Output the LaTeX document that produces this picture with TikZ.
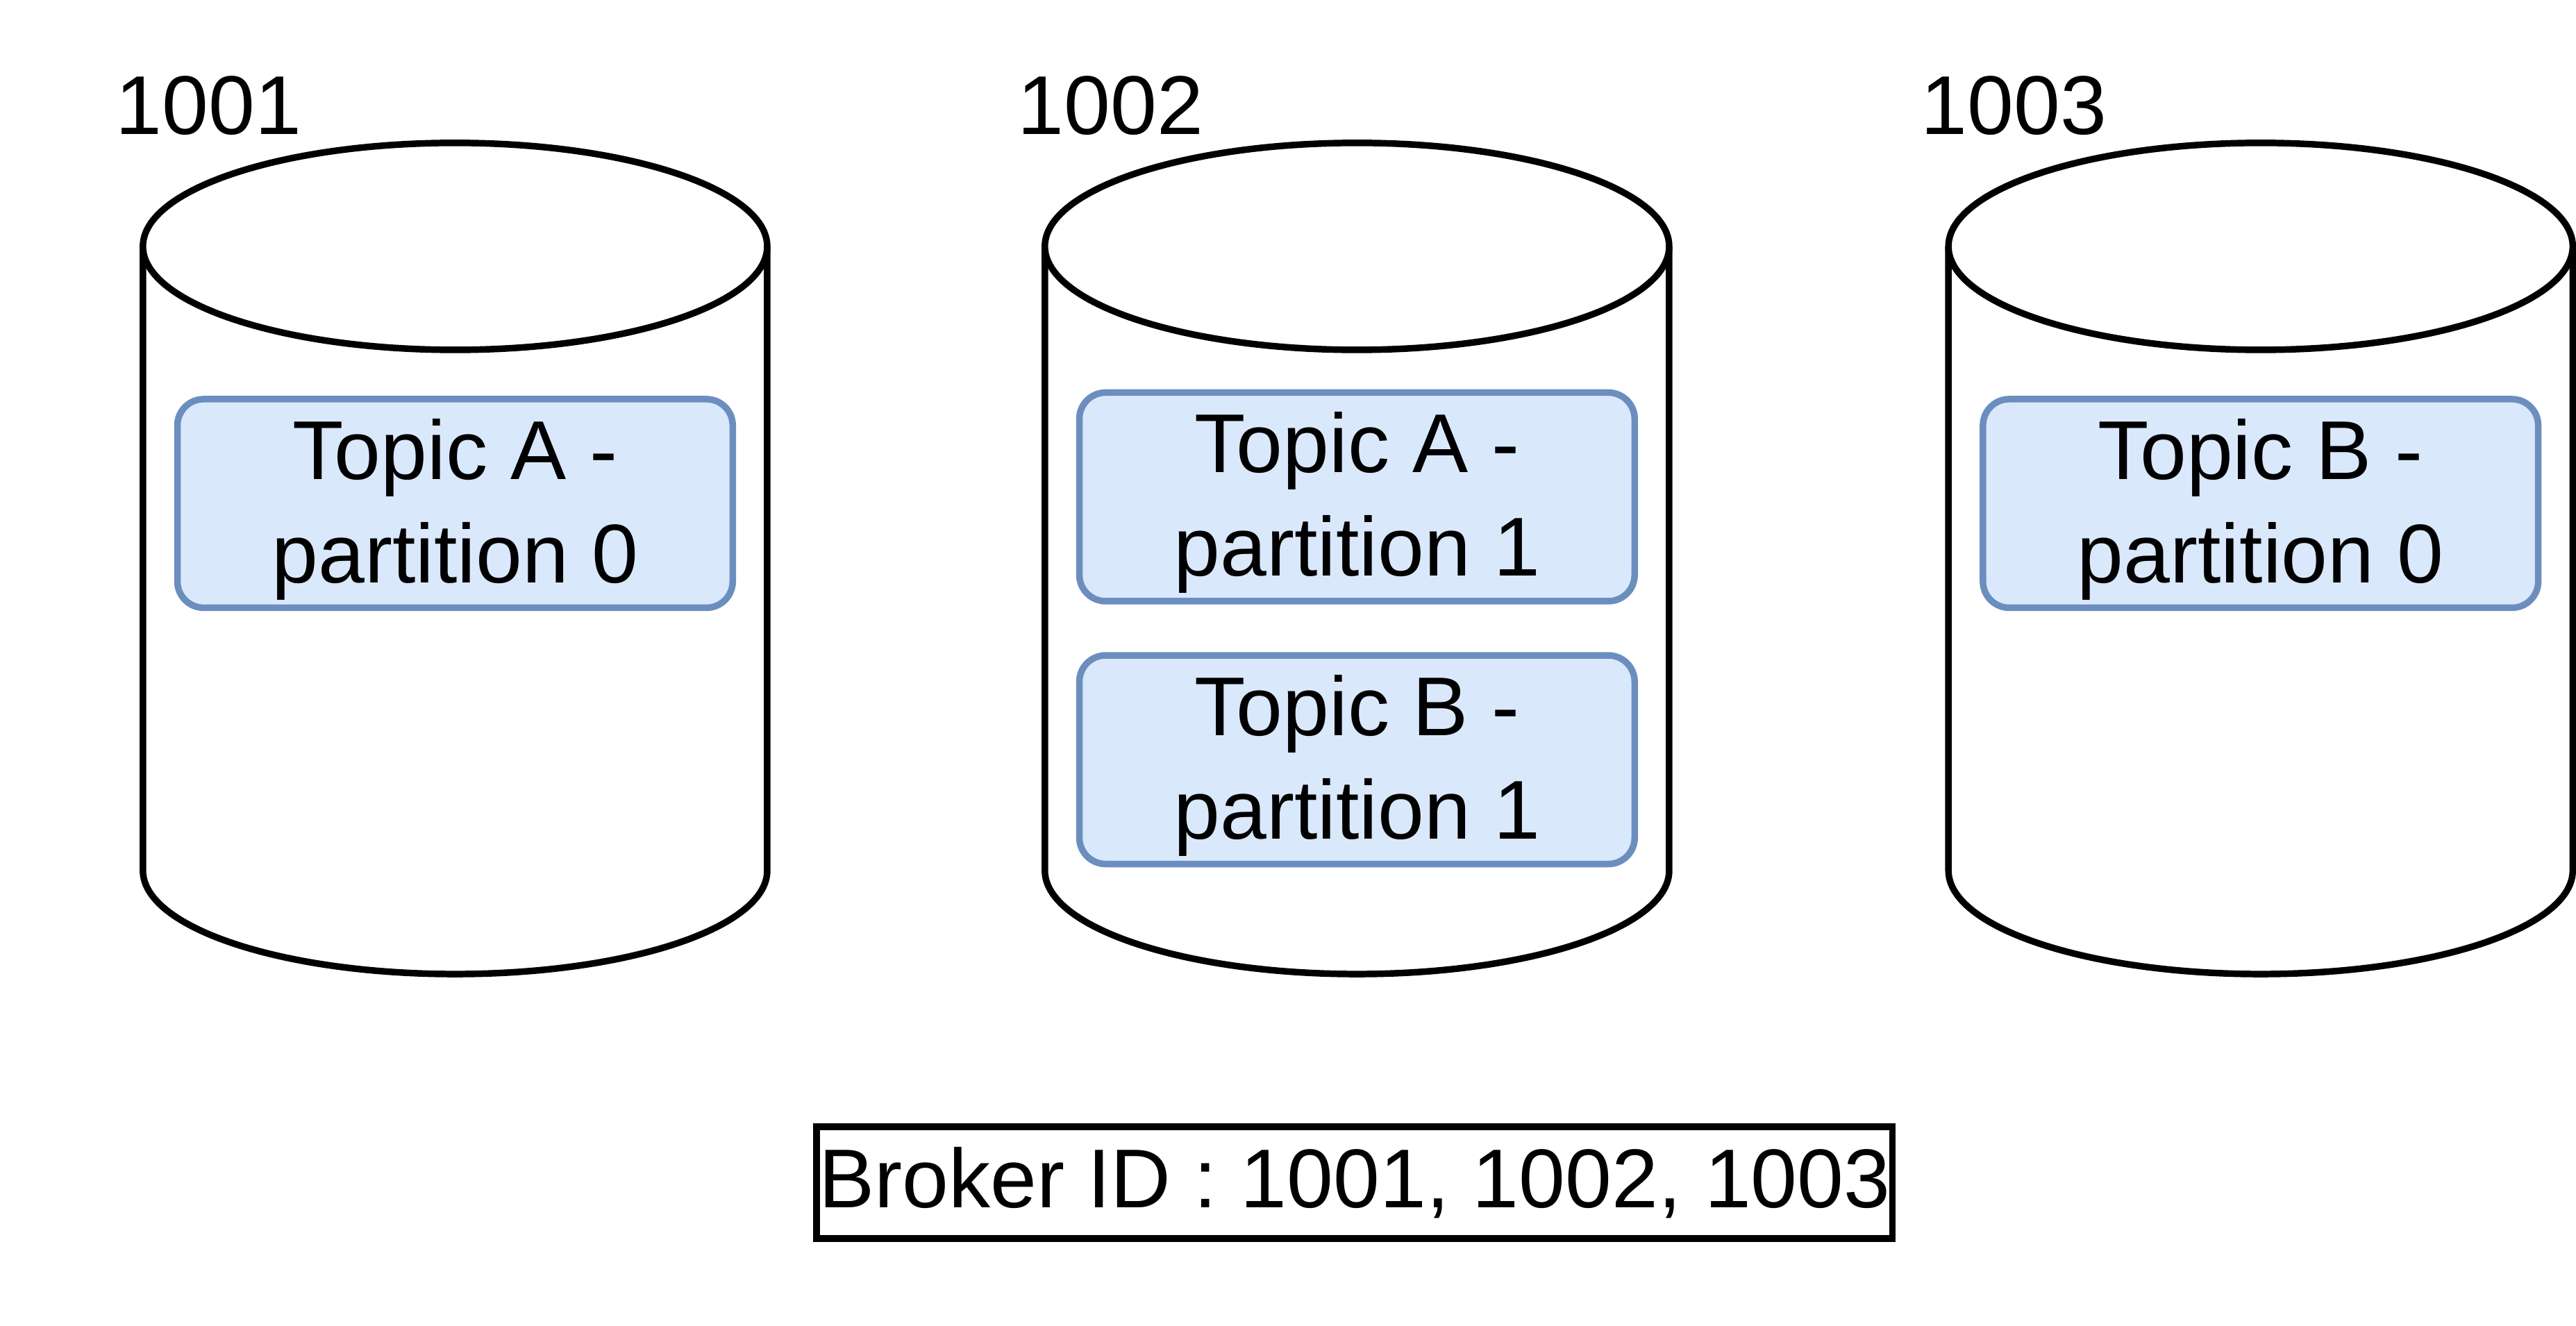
\documentclass[tikz,border=0pt]{standalone}
\usepackage{fontspec}
\setmainfont{Liberation Sans}
\definecolor{partborder}{HTML}{6C8EBF}
\definecolor{partfill}{HTML}{DAE8FC}
\newcommand{\lift}{\rule{0pt}{22pt}}
\tikzset{drum/.style={draw,line width=2pt,fill=white,#1}}
\tikzset{drum/.default={}}
\tikzset{partbox/.style={draw=partborder,fill=partfill,line width=2pt,rounded corners=8pt,minimum width=169pt,minimum height=63.5pt,inner sep=0pt,align=center,#1}}
\tikzset{partbox/.default={}}
\tikzset{font={\fontsize{25.4pt}{31.5pt}\selectfont}}

\begin{document}
\begin{tikzpicture}[x=0.5pt,y=0.5pt]
        \useasboundingbox (0,0) rectangle (1568,807);
        \foreach \x\n in {277/1001, 826/1002, 1376/1003}{
            \draw[drum] (\x-190,657) -- (\x-190,277) arc[start angle=180,end angle=360,x radius=95pt,y radius=31.5pt] -- (\x+190,657);
            \draw[drum] (\x,657) ellipse[x radius=95pt,y radius=31.5pt];
            \node[anchor=base west,inner sep=0pt] (lbl\n) at (\x-207,725) {\n};
        }
        \node[partbox] (a0) at (277,500.5) {\lift Topic A -\\partition 0};
        \node[partbox] (a1) at (826,504.5) {\lift Topic A -\\partition 1};
        \node[partbox] (b1) at (826,344.5) {\lift Topic B -\\partition 1};
        \node[partbox] (b0) at (1376,500.5) {\lift Topic B -\\partition 0};
        \node[draw,line width=2pt,minimum width=327.5pt,minimum height=34pt,inner sep=0pt] (ids) at (824.5,87) {Broker ID : 1001, 1002, 1003};
    \end{tikzpicture}
\end{document}
